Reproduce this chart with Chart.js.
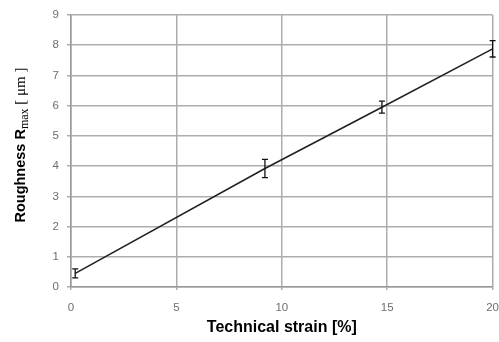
<!DOCTYPE html>
<html>
<head>
<meta charset="utf-8">
<script src="https://cdn.jsdelivr.net/npm/chart.js@4.4.1/dist/chart.umd.min.js"></script>
<style>
  html, body { margin: 0; padding: 0; background: #fff; overflow: hidden; }
  #wrap { width: 510px; height: 342px; }
</style>
</head>
<body>
<div id="wrap"><canvas id="chart" width="510" height="342"></canvas></div>
<script>
'use strict';

// values
const strain = [0.2, 9.2, 14.75, 20];
const roughness = [0.45, 3.92, 5.95, 7.88];
const errorSize = [0.15, 0.3, 0.2, 0.27];
const xTicks = [0, 5, 10, 15, 20];
const yTicks = [0, 1, 2, 3, 4, 5, 6, 7, 8, 9];

const errorBars = {
  id: 'errorBars',
  afterDatasetsDraw: function (chart) {
    const x = chart.scales.x;
    const y = chart.scales.y;
    const ctx = chart.ctx;
    ctx.save();
    ctx.strokeStyle = '#111';
    ctx.lineWidth = 1.3;
    strain.forEach(function (s, i) {
      const px = x.getPixelForValue(s);
      const top = y.getPixelForValue(roughness[i] + errorSize[i]);
      const bot = y.getPixelForValue(roughness[i] - errorSize[i]);
      ctx.beginPath();
      ctx.moveTo(px, top); ctx.lineTo(px, bot);
      ctx.moveTo(px - 3, top); ctx.lineTo(px + 3, top);
      ctx.moveTo(px - 3, bot); ctx.lineTo(px + 3, bot);
      ctx.stroke();
    });
    ctx.restore();
  }
};

const yTitle = {
  id: 'yTitle',
  afterDraw: function (chart) {
    const ctx = chart.ctx;
    const parts = [
      { text: 'Roughness R', font: 'bold 14.5px "Liberation Sans", Arial, sans-serif', dy: 0 },
      { text: 'max', font: '12px "Liberation Serif", "Times New Roman", serif', dy: 3.5 },
      { text: ' [ \u03bcm ]', font: '15px "Liberation Serif", "Times New Roman", serif', dy: 0 }
    ];
    let total = 0;
    parts.forEach(function (p) { ctx.font = p.font; total += ctx.measureText(p.text).width; });
    ctx.save();
    ctx.translate(21, 145);
    ctx.rotate(-Math.PI / 2);
    ctx.fillStyle = '#000';
    ctx.textBaseline = 'middle';
    let pos = -total / 2;
    parts.forEach(function (p) {
      ctx.font = p.font;
      ctx.fillText(p.text, pos, p.dy);
      pos += ctx.measureText(p.text).width;
    });
    ctx.restore();
  }
};

new Chart(document.getElementById('chart'), {
  type: 'scatter',
  data: {
    datasets: [{
      data: strain.map(function (s, i) { return { x: s, y: roughness[i] }; }),
      showLine: true,
      borderColor: '#222',
      borderWidth: 1.6,
      pointRadius: 0,
      fill: false
    }]
  },
  options: {
    responsive: false,
    animation: false,
    layout: { padding: { left: 0, top: 15, right: 15, bottom: 0 } },
    plugins: { legend: { display: false }, tooltip: { enabled: false } },
    scales: {
      x: {
        type: 'linear',
        min: 0,
        max: 20,
        afterBuildTicks: function (scale) {
          scale.ticks = xTicks.map(function (v) { return { value: v }; });
        },
        afterFit: function (scale) { scale.height = 55; },
        grid: { color: '#adadad', lineWidth: 1.5, tickLength: 3 },
        border: { color: '#999', width: 1.5 },
        ticks: {
          color: '#6e6e6e',
          padding: 11,
          maxRotation: 0,
          font: { family: '"Liberation Sans", Arial, sans-serif', size: 11.5 }
        },
        title: {
          display: true,
          text: 'Technical strain [%]',
          color: '#000',
          padding: { top: 0, bottom: 5 },
          font: { family: '"Liberation Sans", Arial, sans-serif', size: 16, weight: 'bold' }
        }
      },
      y: {
        min: 0,
        max: 9,
        afterBuildTicks: function (scale) {
          scale.ticks = yTicks.map(function (v) { return { value: v }; });
        },
        afterFit: function (scale) { scale.width = 71; },
        grid: { color: '#adadad', lineWidth: 1.5, tickLength: 4 },
        border: { color: '#999', width: 1.5 },
        ticks: {
          color: '#6e6e6e',
          padding: 8,
          font: { family: '"Liberation Sans", Arial, sans-serif', size: 11.5 }
        }
      }
    }
  },
  plugins: [errorBars, yTitle]
});
</script>
</body>
</html>
